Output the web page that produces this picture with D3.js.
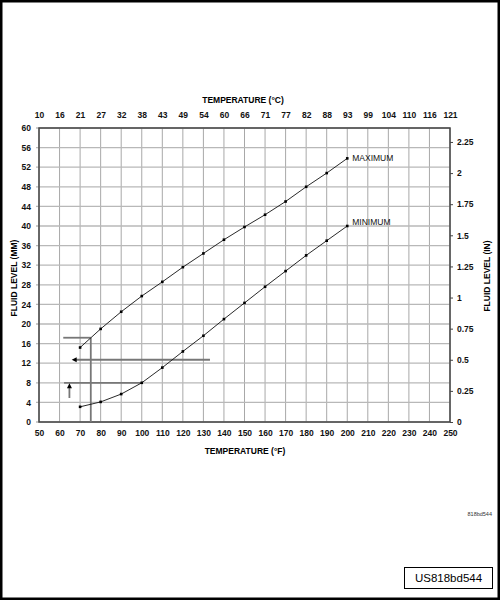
<!DOCTYPE html>
<html><head><meta charset="utf-8">
<script src="https://cdn.jsdelivr.net/npm/d3@7"></script>
<style>html,body{margin:0;padding:0;background:#fff;}</style>
</head><body>
<script>
const tempF = [70, 80, 90, 100, 110, 120, 130, 140, 150, 160, 170, 180, 190, 200];
const maxMM = [15.2, 19.0, 22.5, 25.7, 28.6, 31.6, 34.4, 37.2, 39.8, 42.3, 45.0, 48.0, 50.8, 53.8];
const minMM = [3.1, 4.1, 5.7, 8.0, 11.1, 14.4, 17.6, 21.0, 24.3, 27.6, 30.8, 34.0, 37.0, 40.0];
const fTicks = [50,60,70,80,90,100,110,120,130,140,150,160,170,180,190,200,210,220,230,240,250];
const cLabels = ["10","16","21","27","32","38","43","49","54","60","66","71","77","82","88","93","99","104","110","116","121"];
const mmTicks = [0,4,8,12,16,20,24,28,32,36,40,44,48,52,56,60];
const inTicks = [0,0.25,0.5,0.75,1,1.25,1.5,1.75,2,2.25];
const inLabels = ["0","0.25","0.5","0.75","1","1.25","1.5","1.75","2","2.25"];

const W = 500, H = 600;
const svg = d3.select("body").append("svg").attr("width", W).attr("height", H);
const font = "Liberation Sans, Arial, Helvetica, sans-serif";

// frame
svg.append("rect").attr("x",1).attr("y",1).attr("width",W-2).attr("height",H-2)
  .attr("fill","none").attr("stroke","#000").attr("stroke-width",3);

const x = d3.scaleLinear().domain([50,250]).range([39,450]);
const y = d3.scaleLinear().domain([0,60]).range([422,128]);
const yIn = d3.scaleLinear().domain([0,60/25.4]).range([422,128]);

// grid
const g = svg.append("g");
g.selectAll(".vg").data(fTicks).join("line")
  .attr("x1", d=>x(d)).attr("x2", d=>x(d)).attr("y1", y(0)).attr("y2", y(60))
  .attr("stroke","#a8a8a8").attr("stroke-width",1);
g.selectAll(".hg").data(mmTicks).join("line")
  .attr("x1", x(50)-3).attr("x2", x(250)).attr("y1", d=>y(d)).attr("y2", d=>y(d))
  .attr("stroke","#b8b8b8").attr("stroke-width",1.3);

// plot frame
svg.append("rect").attr("x",x(50)).attr("y",y(60)).attr("width",x(250)-x(50)).attr("height",y(0)-y(60))
  .attr("fill","none").attr("stroke","#444").attr("stroke-width",1.5);

// axes
const axB = svg.append("g").attr("transform",`translate(0,${y(0)})`)
  .call(d3.axisBottom(x).tickValues(fTicks).tickSize(0).tickPadding(8).tickFormat(d3.format("d")));
const axT = svg.append("g").attr("transform",`translate(0,${y(60)})`)
  .call(d3.axisTop(x).tickValues(fTicks).tickSize(0).tickPadding(10).tickFormat((d,i)=>cLabels[i]));
const axL = svg.append("g").attr("transform",`translate(${x(50)},0)`)
  .call(d3.axisLeft(y).tickValues(mmTicks).tickSize(0).tickPadding(8).tickFormat(d3.format("d")));
const axR = svg.append("g").attr("transform",`translate(${x(250)},0)`)
  .call(d3.axisRight(yIn).tickValues(inTicks).tickSize(3).tickPadding(4).tickFormat((d,i)=>inLabels[i]));
[axB,axT,axL,axR].forEach(a=>{
  a.select(".domain").remove();
  a.selectAll("text").attr("font-family",font).attr("font-size",8.5).attr("font-weight","bold").attr("fill","#111");
  a.selectAll("line").attr("stroke","#444");
});

// titles
const tt = (t,xx,yy,rot)=>svg.append("text").text(t).attr("font-family",font).attr("font-size",8.5)
  .attr("font-weight","bold").attr("text-anchor","middle")
  .attr("transform",`translate(${xx},${yy})${rot?` rotate(${rot})`:""}`);
tt("TEMPERATURE (°C)",243,103);
tt("TEMPERATURE (°F)",245,454);
tt("FLUID LEVEL (MM)",17,278,-90);
tt("FLUID LEVEL (IN)",490,276,-90);

// annotation lines
const ann = svg.append("g").attr("stroke","#777").attr("stroke-width",1.8).attr("fill","none");
const annLines = [[[61.8,17.2],[75.2,17.2]],[[75.2,17.2],[75.2,0]],[[62.2,8.0],[100,8.0]],[[133.2,12.7],[67.5,12.7]],[[64.8,4.9],[64.8,7.0]]];
annLines.forEach(l=>ann.append("line").attr("x1",x(l[0][0])).attr("y1",y(l[0][1])).attr("x2",x(l[1][0])).attr("y2",y(l[1][1])));
// arrowheads
const ahL = [x(65.9), y(12.7)];
svg.append("path").attr("d",`M${ahL[0]},${ahL[1]} l5,-2.5 l0,5 z`).attr("fill","#000");
const ahU = [x(64.8), y(7.9)];
svg.append("path").attr("d",`M${ahU[0]},${ahU[1]} l-2.5,5 l5,0 z`).attr("fill","#000");

// data lines
const line = d3.line().x((d,i)=>x(tempF[i])).y(d=>y(d));
[maxMM,minMM].forEach(s=>{
  svg.append("path").attr("d",line(s)).attr("fill","none").attr("stroke","#111").attr("stroke-width",0.9);
  svg.selectAll(null).data(s).join("rect")
    .attr("x",(d,i)=>x(tempF[i])-1.3).attr("y",d=>y(d)-1.3).attr("width",2.6).attr("height",2.6).attr("fill","#000");
});
svg.append("text").text("MAXIMUM").attr("x",x(200)+5).attr("y",y(53.8)+3).attr("font-family",font).attr("font-size",8.5).attr("fill","#111");
svg.append("text").text("MINIMUM").attr("x",x(200)+5).attr("y",y(40)-1).attr("font-family",font).attr("font-size",8.5).attr("fill","#111");

// id labels
svg.append("text").text("818bd544").attr("x",492).attr("y",516).attr("text-anchor","end")
  .attr("font-family",font).attr("font-size",5.5).attr("fill","#333");
svg.append("rect").attr("x",404.5).attr("y",567.5).attr("width",88).attr("height",21).attr("fill","#fff").attr("stroke","#000").attr("stroke-width",1);
svg.append("text").text("US818bd544").attr("x",448.5).attr("y",582).attr("text-anchor","middle")
  .attr("font-family",font).attr("font-size",11.5).attr("fill","#000");
</script>
</body></html>
